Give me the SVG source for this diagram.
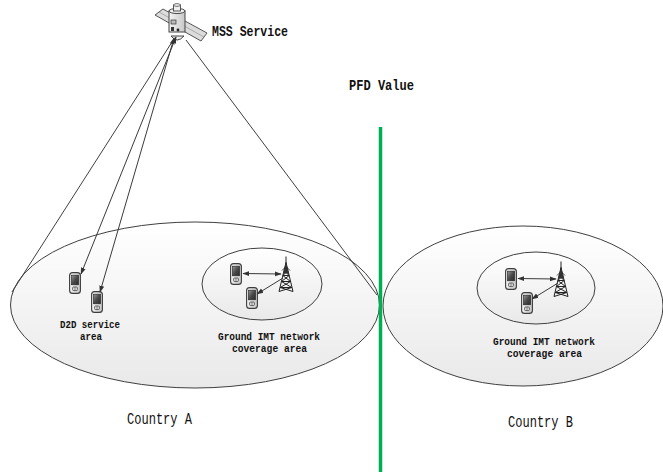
<svg xmlns="http://www.w3.org/2000/svg" xmlns:xlink="http://www.w3.org/1999/xlink" width="663" height="472" viewBox="0 0 663 472">
  <style>
    .area { stroke: #404040; stroke-width: 1; fill: url(#areaFill); }
    .lbl { font-family: "Liberation Mono", "DejaVu Sans Mono", monospace; font-weight: bold; fill: #111; }
    .cty { font-family: "Liberation Mono", "DejaVu Sans Mono", monospace; fill: #111; }
    .link { stroke: #3a3a3a; stroke-width: 1; fill: none; }
    .cone { stroke: #404040; stroke-width: 1; fill: none; }
  </style>
  <defs>
    <linearGradient id="areaFill" x1="0" y1="0" x2="0" y2="1">
      <stop offset="0" stop-color="#ffffff"/>
      <stop offset="1" stop-color="#e9e9e9"/>
    </linearGradient>
    <linearGradient id="bodyFill" x1="0" y1="0" x2="1" y2="0">
      <stop offset="0" stop-color="#f4f4f4"/>
      <stop offset="1" stop-color="#c8c8c8"/>
    </linearGradient>
    <linearGradient id="screenFill" x1="0" y1="0" x2="1" y2="1">
      <stop offset="0" stop-color="#9a9a9a"/>
      <stop offset="0.5" stop-color="#4a4a4a"/>
      <stop offset="1" stop-color="#2a2a2a"/>
    </linearGradient>
    <marker id="ah" viewBox="0 0 10 10" refX="9" refY="5" markerWidth="7" markerHeight="7" orient="auto-start-reverse" markerUnits="userSpaceOnUse">
      <path d="M0,1.5 L10,5 L0,8.5 z" fill="#333"/>
    </marker>
    <!-- handset icon -->
    <symbol id="phone" viewBox="0 0 12 22">
      <rect x="0.6" y="0.6" width="10.8" height="20.8" rx="3" fill="url(#bodyFill)" stroke="#3c3c3c" stroke-width="1.1"/>
      <rect x="2.4" y="3.2" width="7.2" height="9.6" fill="url(#screenFill)" stroke="#222" stroke-width="0.6"/>
      <rect x="3.6" y="15" width="4.8" height="3.6" rx="1" fill="#ddd" stroke="#333" stroke-width="0.7"/>
      <line x1="6" y1="15" x2="6" y2="18.6" stroke="#333" stroke-width="0.5"/>
    </symbol>
    <!-- lattice base-station tower -->
    <symbol id="tower" viewBox="0 0 20 36">
      <g stroke="#222" stroke-width="1" fill="none">
        <line x1="10" y1="0" x2="10" y2="9"/>
        <path d="M10,6 L3,35 M10,6 L17,35"/>
        <path d="M8,14 L12,14 M6.8,19 L13.2,19 M5.5,25 L14.5,25 M4.2,31 L15.8,31"/>
        <path d="M8,14 L13.2,19 M12,14 L6.8,19 M6.8,19 L14.5,25 M13.2,19 L5.5,25 M5.5,25 L15.8,31 M14.5,25 L4.2,31 M4.2,31 L17,35 M15.8,31 L3,35"/>
        <path d="M6,14 L10,10 L14,14" stroke-width="0.8"/>
      </g>
      <path d="M10,6 L7,17 L13,17 Z" fill="#333"/>
    </symbol>
  </defs>

  <rect width="663" height="472" fill="#ffffff"/>

  <!-- coverage areas -->
  <g id="country-a-area">
    <ellipse class="area" cx="195" cy="305" rx="184.5" ry="83"/>
  </g>
  <g id="country-b-area">
    <ellipse class="area" cx="523" cy="306" rx="140" ry="80"/>
  </g>
  <g id="imt-a-area">
    <ellipse class="area" cx="262" cy="284" rx="60" ry="36"/>
  </g>
  <g id="imt-b-area">
    <ellipse class="area" cx="536" cy="288" rx="59" ry="36"/>
  </g>

  <!-- satellite -->
  <g id="satellite">
    <polygon points="155,15 163,9 207,33 201,41" fill="#dcdcdc" stroke="#555" stroke-width="1"/>
    <line x1="159" y1="12" x2="204" y2="37" stroke="#888" stroke-width="0.6"/>
    <rect x="169" y="11" width="16" height="21" fill="url(#bodyFill)" stroke="#444" stroke-width="1"/>
    <ellipse cx="177" cy="11" rx="8" ry="2.5" fill="#f2f2f2" stroke="#444" stroke-width="1"/>
    <rect x="173.5" y="5" width="7" height="6" fill="#eee" stroke="#444" stroke-width="0.9"/>
    <ellipse cx="177" cy="5" rx="3.5" ry="1.3" fill="#fafafa" stroke="#444" stroke-width="0.8"/>
    <rect x="171" y="20" width="5" height="4" fill="#bbb" stroke="#333" stroke-width="0.7"/>
    <rect x="171" y="27" width="3" height="4" fill="#333"/>
    <path d="M171,36 Q177,44 184,36 Z" fill="#eee" stroke="#444" stroke-width="1"/>
    <circle cx="178" cy="30" r="1.4" fill="#222"/>
  </g>

  <!-- handsets and towers -->
  <g id="d2d-phone-1"><use href="#phone" xlink:href="#phone" x="69" y="272" width="12" height="22"/></g>
  <g id="d2d-phone-2"><use href="#phone" xlink:href="#phone" x="91" y="291" width="12" height="22"/></g>
  <g id="imt-a-phone-1"><use href="#phone" xlink:href="#phone" x="230" y="263" width="12" height="22"/></g>
  <g id="imt-a-phone-2"><use href="#phone" xlink:href="#phone" x="246" y="287" width="12" height="22"/></g>
  <g id="imt-a-tower"><use href="#tower" xlink:href="#tower" x="276" y="256" width="20" height="37"/></g>
  <g id="imt-b-phone-1"><use href="#phone" xlink:href="#phone" x="505" y="268" width="12" height="22"/></g>
  <g id="imt-b-phone-2"><use href="#phone" xlink:href="#phone" x="521" y="292" width="12" height="22"/></g>
  <g id="imt-b-tower"><use href="#tower" xlink:href="#tower" x="551" y="261" width="20" height="37"/></g>

  <!-- connectors -->
  <g id="connectors">
    <line class="cone" x1="172" y1="42" x2="12" y2="292"/>
    <line class="cone" x1="186" y1="40" x2="377" y2="295"/>
    <line class="link" x1="176" y1="37" x2="81" y2="274" marker-start="url(#ah)" marker-end="url(#ah)"/>
    <line class="link" x1="174" y1="38" x2="100" y2="292" marker-start="url(#ah)" marker-end="url(#ah)"/>
    <line class="link" x1="243" y1="273.5" x2="281" y2="274" marker-start="url(#ah)" marker-end="url(#ah)"/>
    <line class="link" x1="283" y1="278" x2="257" y2="294" marker-end="url(#ah)"/>
    <line class="link" x1="518" y1="278.5" x2="556" y2="279" marker-start="url(#ah)" marker-end="url(#ah)"/>
    <line class="link" x1="558" y1="283" x2="532" y2="299" marker-end="url(#ah)"/>
  </g>

  <!-- border between countries -->
  <g id="border">
    <line x1="380.5" y1="127" x2="380.5" y2="472" stroke="#00b050" stroke-width="3.5"/>
  </g>

  <!-- labels -->
  <g id="labels">
    <text class="lbl" x="212" y="36" font-size="15" textLength="76" lengthAdjust="spacingAndGlyphs">MSS Service</text>
    <text class="lbl" x="349" y="90" font-size="14" textLength="65" lengthAdjust="spacingAndGlyphs">PFD Value</text>
    <text class="lbl" x="60" y="328" font-size="11" textLength="60" lengthAdjust="spacingAndGlyphs">D2D service</text>
    <text class="lbl" x="80" y="340" font-size="11" textLength="22" lengthAdjust="spacingAndGlyphs">area</text>
    <text class="lbl" x="218" y="340" font-size="11" textLength="102" lengthAdjust="spacingAndGlyphs">Ground IMT network</text>
    <text class="lbl" x="232" y="352" font-size="11" textLength="75" lengthAdjust="spacingAndGlyphs">coverage area</text>
    <text class="lbl" x="493" y="345" font-size="11" textLength="102" lengthAdjust="spacingAndGlyphs">Ground IMT network</text>
    <text class="lbl" x="507" y="357" font-size="11" textLength="75" lengthAdjust="spacingAndGlyphs">coverage area</text>
    <text class="cty" x="127" y="424" font-size="17" textLength="65" lengthAdjust="spacingAndGlyphs">Country A</text>
    <text class="cty" x="508" y="427" font-size="17" textLength="65" lengthAdjust="spacingAndGlyphs">Country B</text>
  </g>
</svg>
